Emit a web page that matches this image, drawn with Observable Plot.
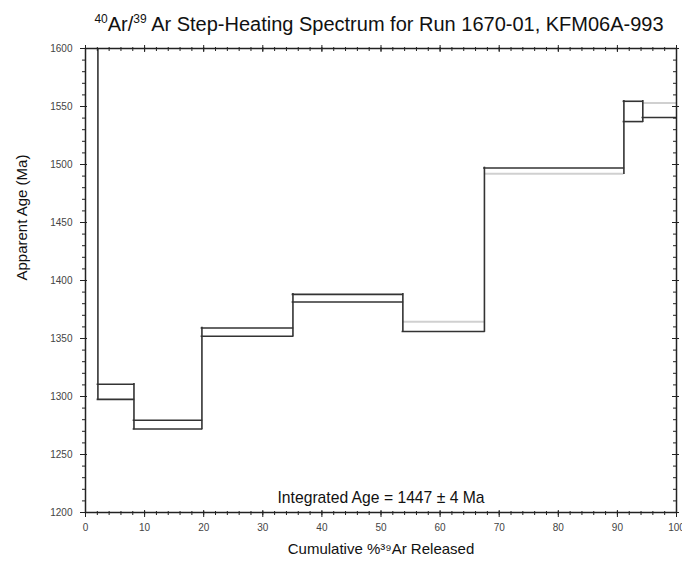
<!DOCTYPE html>
<html>
<head>
<meta charset="utf-8">
<script src="https://cdn.jsdelivr.net/npm/d3@7"></script>
<script src="https://cdn.jsdelivr.net/npm/@observablehq/plot@0.6"></script>
<style>
  html, body { margin: 0; padding: 0; background: white; }
  #wrap { width: 682px; height: 565px; position: relative; overflow: hidden; }
  #title { height: 40px; box-sizing: border-box; padding-top: 14px; padding-left: 76px; text-align: center;
           font: 20px "Liberation Sans", Arial, Helvetica, sans-serif; color: #111; line-height: 1; white-space: nowrap; }
  #title sup { font-size: 12px; vertical-align: 8px; line-height: 0; }
</style>
</head>
<body>
<div id="wrap">
  <div id="title"><sup>40</sup>Ar/<sup>39</sup> Ar Step-Heating Spectrum for Run 1670-01, KFM06A-993</div>
  <div id="chart"></div>
</div>
<script>
// Step boundaries (cumulative % 39Ar released)
const stepStart = [0, 2.1, 8.2, 19.7, 35.1, 53.7, 67.5, 91.1, 94.3];
const stepEnd   = [2.1, 8.2, 19.7, 35.1, 53.7, 67.5, 91.1, 94.3, 100];
// Apparent age envelopes (Ma), upper and lower bounds per step
const upperAge  = [1700, 1310.5, 1279.5, 1359, 1388, 1364.5, 1497, 1554.5, 1553];
const lowerAge  = [1690, 1297.5, 1272, 1352, 1381.5, 1356, 1492, 1537, 1540.5];
// Which step edges appear light grey in the reference
const upperGray = [false, false, false, false, false, true, false, false, true];
const lowerGray = [false, false, false, false, false, false, true, false, false];

const xMajor = [0, 10, 20, 30, 40, 50, 60, 70, 80, 90, 100];
const xMinor = d3.range(0, 101, 2);
const yMajor = [1200, 1250, 1300, 1350, 1400, 1450, 1500, 1550, 1600];
const yMinor = d3.range(1200, 1601, 10);

const xLabel = "Cumulative %\u00B3\u2079Ar Released";
const yLabel = "Apparent Age (Ma)";
const integrated = ["Integrated Age = 1447 \u00B1 4 Ma"];

const horiz = [];
[[upperAge, upperGray], [lowerAge, lowerGray]].forEach(([vals, gray]) => {
  vals.forEach((v, i) => horiz.push({x1: stepStart[i], x2: stepEnd[i], y: v, gray: gray[i]}));
});
// one vertical per step boundary, spanning both envelopes on either side
const vert = stepStart.slice(1).map((x, k) => {
  const vs = [upperAge[k], lowerAge[k], upperAge[k + 1], lowerAge[k + 1]];
  return {x, y1: d3.min(vs), y2: d3.max(vs)};
});

const noText = () => "";
const chart = Plot.plot({
  width: 682,
  height: 525,
  marginLeft: 85,
  marginRight: 6,
  marginTop: 8,
  marginBottom: 53,
  x: {domain: [0, 100]},
  y: {domain: [1200, 1600]},
  style: {fontFamily: "'Liberation Sans', Arial, Helvetica, sans-serif", fontSize: "10px", color: "#444", background: "white"},
  marks: [
    Plot.ruleY(horiz.filter(d => d.gray), {y: "y", x1: "x1", x2: "x2", stroke: "#d0d0d0", strokeWidth: 2, clip: true}),
    Plot.ruleY(horiz.filter(d => !d.gray), {y: "y", x1: "x1", x2: "x2", stroke: "#333", strokeWidth: 1.6, strokeLinecap: "square", clip: true}),
    Plot.ruleX(vert, {x: "x", y1: "y1", y2: "y2", stroke: "#333", strokeWidth: 1.6, strokeLinecap: "square", clip: true}),

    Plot.axisX(xMajor, {anchor: "bottom", tickSize: 7, insetBottom: 2, tickPadding: 6, tickFormat: d3.format("d"), label: null, stroke: "#222"}),
    Plot.axisX(xMinor, {anchor: "bottom", tickSize: 4, insetBottom: 1, tickFormat: noText, label: null, stroke: "#222"}),
    Plot.axisX(xMajor, {anchor: "top", tickSize: 7, insetTop: 3, tickFormat: noText, label: null, stroke: "#222"}),
    Plot.axisX(xMinor, {anchor: "top", tickSize: 4, insetTop: 2, tickFormat: noText, label: null, stroke: "#222"}),
    Plot.axisY(yMajor, {anchor: "left", tickSize: 7, insetLeft: 2, tickPadding: 8, tickFormat: d3.format("d"), label: null, stroke: "#222"}),
    Plot.axisY(yMinor, {anchor: "left", tickSize: 4, insetLeft: 1, tickFormat: noText, label: null, stroke: "#222"}),
    Plot.axisY(yMajor, {anchor: "right", tickSize: 7, insetRight: 5, tickFormat: noText, label: null, stroke: "#222"}),
    Plot.axisY(yMinor, {anchor: "right", tickSize: 4, insetRight: 4, tickFormat: noText, label: null, stroke: "#222"}),

    Plot.frame({stroke: "#222", strokeWidth: 1.5}),

    Plot.text(integrated, {frameAnchor: "bottom", dy: -10, fontSize: 15.7, fill: "#111"}),
    Plot.text([xLabel], {frameAnchor: "bottom", dy: 41, fontSize: 15, fill: "#111"}),
    Plot.text([yLabel], {frameAnchor: "left", dx: -63, rotate: -90, fontSize: 15, fill: "#111"})
  ]
});
document.getElementById("chart").appendChild(chart);
</script>
</body>
</html>
